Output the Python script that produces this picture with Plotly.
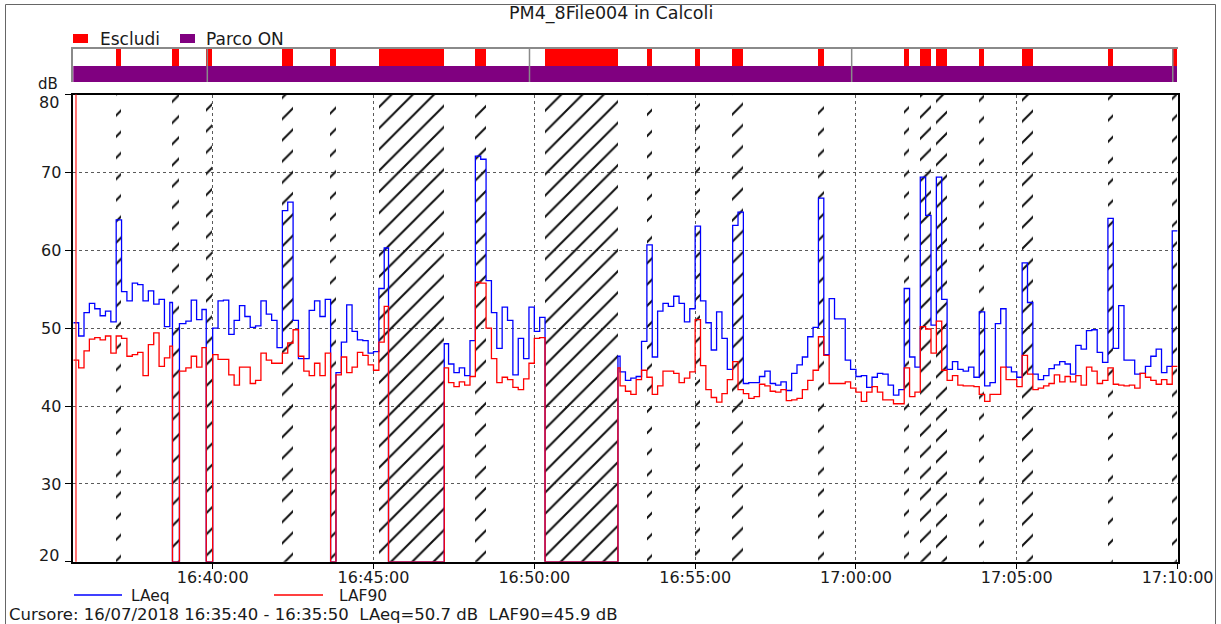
import plotly.graph_objects as go
import pandas as pd

W, H = 1221, 624
DAY = "2018-07-16 "
T0 = pd.Timestamp(DAY + "16:35:40")
T_END = pd.Timestamp(DAY + "17:10:00")
STEP_S = 10
PAUSE_LEVEL = 20  # level drawn while the meter is paused

# ---- 10 s samples (None = inside a pause) ----
laeq = [
    50.7, 49.0, 52.0, 53.2, 52.5, 51.6, 52.2, 50.8, 63.9, 54.7,   # 0-9
    53.5, 55.8, 55.6, 53.5, 54.8, 53.1, 53.7, 50.2, 53.3, 50.6,   # 10-19
    50.6, 50.9, 53.6, 51.1, 52.4, None, 50.0, 53.5, 53.6, 49.2,   # 20-29
    51.0, 52.9, 51.5, 50.1, 50.3, 53.5, 51.8, 51.0, 47.5, 65.1,   # 30-39
    66.2, 51.0, 46.1, 46.1, 52.3, 53.5, 51.5, 53.7, None, 44.3,   # 40-49
    48.2, 53.0, 49.6, 48.5, 48.4, 46.8, 47.0, 55.1, 60.3, None,   # 50-59
    None, None, None, None, None, None, None, None, None, 48.0,   # 60-69
    45.4, 44.3, 44.9, 43.9, 48.4, 72.1, 71.7, 56.1, 52.0, 47.4,   # 70-79
    52.7, 51.0, 44.0, 48.7, 46.1, 52.7, 49.6, 51.4, None, None,   # 80-89
    None, None, None, None, None, None, None, None, None, None,   # 90-99
    None, 46.4, 44.4, 43.3, 43.6, 43.8, 48.3, 60.7, 46.3, 52.2,   # 100-109
    53.2, 52.8, 54.1, 53.2, 50.8, 52.5, 63.1, 53.5, 50.7, 47.2,   # 110-119
    52.1, 48.7, 44.7, 63.2, 64.9, 42.9, 43.0, 43.0, 43.8, 44.5,   # 120-129
    42.9, 42.7, 43.1, 42.0, 44.2, 45.3, 46.3, 48.9, 50.1, 66.7,   # 130-139
    46.6, 53.8, 51.2, 51.2, 45.9, 44.7, 43.8, 43.9, 42.4, 43.7,   # 140-149
    44.2, 44.1, 42.7, 41.4, 42.1, 55.1, 46.3, 45.0, 69.4, 64.5,   # 150-159
    50.4, 69.4, 53.7, 44.7, 45.7, 44.7, 44.5, 45.0, 43.7, 52.1,   # 160-169
    42.6, 43.0, 50.6, 52.5, 45.0, 44.4, 43.7, 58.4, 53.3, 44.1,   # 170-179
    43.4, 43.9, 44.8, 45.3, 45.7, 45.4, 44.1, 47.8, 47.3, 49.7,   # 180-189
    49.8, 46.9, 45.6, 64.1, 47.4, 52.9, 45.9, 45.9, 44.1, 44.2,   # 190-199
    45.1, 46.4, 47.3, 44.3, 45.1, 62.5,                           # 200-205
]
laf90 = [
    45.9, 44.9, 47.1, 48.6, 48.8, 48.5, 49.0, 46.8, 49.0, 48.7,
    46.4, 46.6, 46.9, 43.9, 47.9, 49.4, 45.1, 46.2, 47.7, 44.5,
    44.5, 44.9, 46.4, 45.0, 47.5, None, 46.6, 46.0, 46.0, 44.0,
    42.7, 45.0, 45.0, 42.9, 43.3, 46.8, 45.9, 45.5, 45.5, 46.8,
    48.1, 49.8, 46.4, 44.5, 43.9, 45.5, 43.9, 46.8, None, 44.0,
    46.3, 44.3, 45.0, 46.9, 46.5, 45.3, 44.6, 48.2, 52.8, None,
    None, None, None, None, None, None, None, None, None, 44.9,
    43.0, 42.5, 43.1, 42.7, 43.8, 55.9, 55.8, 50.0, 46.1, 43.0,
    43.7, 43.4, 42.4, 42.1, 43.5, 45.5, 48.7, 48.8, None, None,
    None, None, None, None, None, None, None, None, None, None,
    None, 44.9, 42.6, 41.9, 41.5, 43.4, 44.6, 43.7, 41.5, 42.6,
    44.5, 44.5, 44.2, 43.0, 43.6, 44.4, 51.1, 45.2, 42.1, 41.1,
    40.5, 41.6, 43.4, 45.7, 42.1, 41.6, 41.0, 41.2, 42.8, 42.6,
    41.9, 41.8, 42.1, 40.7, 40.8, 41.0, 42.1, 43.3, 44.6, 48.9,
    46.5, 42.9, 42.9, 42.9, 43.1, 42.3, 41.8, 40.6, 41.8, 42.5,
    41.8, 40.8, 40.8, 40.3, 40.3, 44.9, 41.2, 41.8, 50.2, 49.9,
    46.8, 50.9, 44.6, 43.3, 43.9, 42.7, 42.6, 42.6, 42.5, 41.5,
    40.6, 41.5, 41.5, 45.0, 43.4, 43.4, 42.5, 46.5, 44.1, 42.1,
    42.3, 42.6, 42.9, 44.0, 43.1, 43.8, 43.1, 43.9, 42.7, 45.0,
    44.5, 42.9, 43.3, 44.9, 42.8, 42.7, 42.6, 42.7, 42.3, 44.2,
    43.7, 43.3, 42.8, 43.4, 42.8, 45.1,
]
N = len(laeq)
assert N == len(laf90) == 206

# meter pauses (start, end)
pauses = [("16:38:45", "16:38:58"), ("16:39:48", "16:39:59"), ("16:43:40", "16:43:50"),
          ("16:45:28", "16:47:12"), ("16:50:20", "16:52:36")]
# samples marked "Escludi" (besides the pauses)
excluded_samples = [8, 39, 40, 57, 58, 75, 76, 107, 116, 123, 124, 139, 155,
                    158, 159, 161, 162, 169, 177, 178, 193, 205]
# "Parco ON" segment boundaries
parco_on_bounds = ["16:35:40", "16:39:50", "16:49:51", "16:59:52", "17:09:51", "17:10:00"]
x_ticks = ["16:40:00", "16:45:00", "16:50:00", "16:55:00", "17:00:00", "17:05:00", "17:10:00"]
y_ticks = [20, 30, 40, 50, 60, 70, 80]
cursor_sample = 0

def ts(s):
    return pd.Timestamp(DAY + s)

sec = pd.Timedelta(seconds=1)
sample_t = [T0 + pd.Timedelta(seconds=STEP_S * k) for k in range(N)]
P = [(ts(a), ts(b)) for a, b in pauses]
bps = sorted(set(sample_t + [a for a, b in P] + [b for a, b in P]))


def step_series(vals):
    xs, ys = [], []
    for b in bps:
        if b >= T_END:
            continue
        if any(a <= b < e for a, e in P):
            v = PAUSE_LEVEL
        else:
            k = int((b - T0).total_seconds() // STEP_S)
            v = vals[k] if vals[k] is not None else PAUSE_LEVEL
        xs.append(b)
        ys.append(v)
    xs.append(T_END)
    ys.append(ys[-1])
    return xs, ys


# merged exclusion intervals
iv = sorted([(sample_t[k], sample_t[k] + STEP_S * sec) for k in excluded_samples] + P)
excl = []
for a, b in iv:
    if excl and a <= excl[-1][1]:
        excl[-1] = (excl[-1][0], max(excl[-1][1], b))
    else:
        excl.append((a, b))
ex_c = [a + (b - a) / 2 for a, b in excl]
ex_w = [(b - a).total_seconds() * 1000 for a, b in excl]

pb = [ts(s) for s in parco_on_bounds]
po_c = [pb[i] + (pb[i + 1] - pb[i]) / 2 for i in range(len(pb) - 1)]
po_w = [(pb[i + 1] - pb[i]).total_seconds() * 1000 for i in range(len(pb) - 1)]

FONT = "DejaVu Sans"
TXT = "#1a1a1a"

def fx(px):
    return px / W

def fy(py):
    return 1 - py / H

fig = go.Figure()

# hatched exclusion regions in the main plot
fig.add_trace(go.Bar(
    x=ex_c, y=[60] * len(ex_c), base=[20] * len(ex_c), width=ex_w,
    marker=dict(color="rgba(0,0,0,0)", line=dict(width=0),
                pattern=dict(shape="/", fgcolor="#111", bgcolor="rgba(0,0,0,0)",
                             size=15, solidity=0.14, fillmode="replace")),
    xaxis="x", yaxis="y", hoverinfo="skip", showlegend=False))

bx, by = step_series(laeq)
rx, ry = step_series(laf90)
fig.add_trace(go.Scatter(x=bx, y=by, mode="lines", line=dict(color="#0000FF", width=1.3, shape="hv"),
                         name="LAeq", showlegend=False))
fig.add_trace(go.Scatter(x=rx, y=ry, mode="lines", line=dict(color="#FF0000", width=1.3, shape="hv"),
                         name="LAF90", showlegend=False))

# strip: Parco ON (purple) and Escludi (red)
fig.add_trace(go.Bar(x=po_c, y=[1] * len(po_c), base=[0] * len(po_c), width=po_w,
                     marker=dict(color="#800080", line=dict(width=0)),
                     xaxis="x2", yaxis="y2", hoverinfo="skip", showlegend=False))
fig.add_trace(go.Bar(x=ex_c, y=[1] * len(ex_c), base=[1] * len(ex_c), width=ex_w,
                     marker=dict(color="#FF0000", line=dict(width=0)),
                     xaxis="x2", yaxis="y2", hoverinfo="skip", showlegend=False))
# pause markers
mk = [a + (b - a) / 2 for a, b in P]
fig.add_trace(go.Scatter(x=mk, y=[-0.22] * len(mk), mode="markers", cliponaxis=False,
                         marker=dict(symbol="triangle-down", size=7, color="#1030F0", line=dict(width=0)),
                         xaxis="x2", yaxis="y2", hoverinfo="skip", showlegend=False))

shapes = []
for b in pb[1:-1]:
    shapes.append(dict(type="line", xref="x2", yref="y2 domain", x0=b, x1=b, y0=0, y1=1,
                       line=dict(color="#8a8a8a", width=1.5)))
# cursor line
c0 = sample_t[cursor_sample] + STEP_S * sec / 2
shapes.append(dict(type="line", xref="x", yref="y domain", x0=c0, x1=c0, y0=0, y1=1,
                   line=dict(color="rgba(255,40,40,0.85)", width=1.5)))
# outer frame
shapes.append(dict(type="path", xref="paper", yref="paper",
                   path=f"M {fx(5.5)} -0.02 L {fx(5.5)} {fy(4.5)} L {fx(1215.5)} {fy(4.5)} L {fx(1215.5)} -0.02",
                   line=dict(color="#666", width=1)))
# top legend symbols
shapes.append(dict(type="rect", xref="paper", yref="paper", x0=fx(73), x1=fx(88), y0=fy(43), y1=fy(34),
                   fillcolor="#FF0000", line=dict(width=0)))
shapes.append(dict(type="rect", xref="paper", yref="paper", x0=fx(180), x1=fx(195), y0=fy(43), y1=fy(34),
                   fillcolor="#800080", line=dict(width=0)))
# bottom legend lines
shapes.append(dict(type="line", xref="paper", yref="paper", x0=fx(74), x1=fx(122), y0=fy(595), y1=fy(595),
                   line=dict(color="#0000FF", width=1.3)))
shapes.append(dict(type="line", xref="paper", yref="paper", x0=fx(274), x1=fx(323), y0=fy(595), y1=fy(595),
                   line=dict(color="#FF0000", width=1.3)))

def txt(text, x, y, xanchor="left", size=17):
    return dict(text=text, xref="paper", yref="paper", x=fx(x), y=fy(y), xanchor=xanchor,
                yanchor="middle", showarrow=False, font=dict(family=FONT, size=size, color=TXT))

c1 = sample_t[cursor_sample] + STEP_S * sec
cursor_text = (f"Cursore: {sample_t[cursor_sample]:%d/%m/%Y %H:%M:%S} - {c1:%H:%M:%S}"
               f"\u00a0 LAeq={laeq[cursor_sample]:.1f} dB\u00a0 LAF90={laf90[cursor_sample]:.1f} dB")
annotations = [
    txt("PM4_8File004 in Calcoli", 611, 13, "center", 17.5),
    txt("Escludi", 98, 39),
    txt("Parco ON", 204, 39),
    txt("dB", 48, 84.5, "center", 15),
    txt("LAeq", 129, 595.5, "left", 15.5),
    txt("LAF90", 337, 595.5, "left", 15.5),
    txt(cursor_text, 7, 614, "left", 16.5),
    dict(text=str(y_ticks[-1]), xref="paper", yref="y", x=fx(61), y=y_ticks[-1], yshift=-8,
         xanchor="right", yanchor="middle", showarrow=False, font=dict(family=FONT, size=16, color=TXT)),
    dict(text=str(y_ticks[0]), xref="paper", yref="y", x=fx(61), y=y_ticks[0], yshift=6,
         xanchor="right", yanchor="middle", showarrow=False, font=dict(family=FONT, size=16, color=TXT)),
]

xdom = [fx(73.3), fx(1177.6)]
fig.update_layout(
    width=W, height=H, autosize=False,
    margin=dict(l=0, r=0, t=0, b=0),
    paper_bgcolor="white", plot_bgcolor="white",
    barmode="overlay", bargap=0,
    showlegend=False,
    shapes=shapes, annotations=annotations,
    xaxis=dict(type="date", domain=xdom, anchor="y",
               range=[T0, T_END],
               tickvals=[ts(s) for s in x_ticks], tickformat="%H:%M:%S",
               ticks="outside", ticklen=5, tickcolor="black", tickwidth=1,
               ticklabelstandoff=-5,
               tickfont=dict(family=FONT, size=16, color=TXT),
               showline=True, linecolor="black", linewidth=1.5, mirror=True,
               showgrid=True, gridcolor="#5a5a5a", griddash="dot", gridwidth=1,
               zeroline=False, automargin=False),
    yaxis=dict(domain=[fy(561.8), fy(94.6)], anchor="x", range=[20, 80],
               tickvals=y_ticks,
               ticktext=[""] + [str(v) for v in y_ticks[1:-1]] + [""],
               ticks="outside", ticklen=7, tickcolor="black", tickwidth=1,
               tickfont=dict(family=FONT, size=16, color=TXT),
               showline=True, linecolor="black", linewidth=1.5, mirror=True,
               showgrid=True, gridcolor="#5a5a5a", griddash="dot", gridwidth=1,
               zeroline=False, automargin=False),
    xaxis2=dict(type="date", domain=xdom, anchor="y2", matches="x", side="top",
                showticklabels=False, ticks="", showgrid=False, zeroline=False,
                showline=True, linecolor="#8a8a8a", linewidth=1.5, automargin=False),
    yaxis2=dict(domain=[fy(82), fy(49)], anchor="x2", range=[0, 2],
                showticklabels=False, ticks="", showgrid=False, zeroline=False,
                showline=True, linecolor="#8a8a8a", linewidth=1.5, automargin=False),
)

fig.write_html("out.html", config={"displayModeBar": False})
